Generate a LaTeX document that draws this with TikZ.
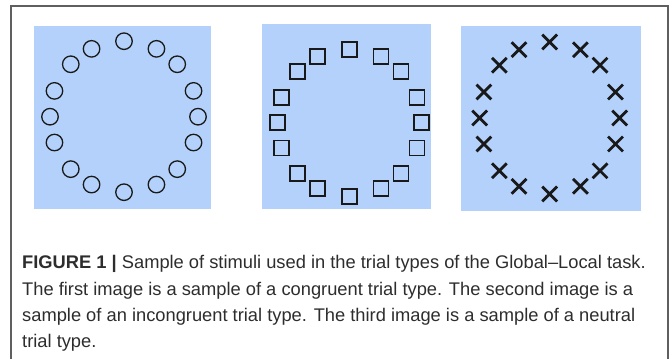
\documentclass[tikz,border=0pt]{standalone}
\usepackage{fontspec}
\setmainfont{Liberation Sans}
\usetikzlibrary{shapes.misc}
\definecolor{stimblue}{RGB}{179,209,250}
\definecolor{framegray}{RGB}{95,95,95}
\definecolor{ink}{RGB}{25,25,25}
\definecolor{captext}{RGB}{45,45,45}

\begin{document}
\begin{tikzpicture}[x=1pt,y=-1pt,
  panel/.style={fill=stimblue},
  circ/.style={draw=ink,circle,line width=1.3pt,minimum size=16.5pt,inner sep=0pt},
  sqr/.style={draw=ink,rectangle,line width=1.6pt,minimum size=15pt,inner sep=0pt},
  xmark/.style={draw=ink,cross out,line width=2.8pt,minimum size=12pt,inner sep=0pt},
  captxt/.style={anchor=base west,inner sep=0pt,text=captext,font=\fontsize{18.3}{22}\selectfont}]
\useasboundingbox (0,0) rectangle (670,359);

% frame round the figure
\draw[framegray,line width=1.4pt] (11,362) -- (11,6) -- (668,6) -- (668,362);

% stimulus panels
\fill[panel] (34,26) rectangle (211,209);
\fill[panel] (262,24) rectangle (431,209);
\fill[panel] (461,26) rectangle (641,211);

% local elements on the global ring
\foreach \a [count=\i] in {0,26,46,70,90,110,134,154,180,206,226,250,270,290,314,334}{
	\node[circ] (o\i) at ({124+74*sin(\a)},{116.7-75.5*cos(\a)}) {};
	\node[sqr] (s\i) at ({349.3+72*sin(\a)},{122.7-73.5*cos(\a)}) {};
	\node[xmark] (x\i) at ({549.7+70*sin(\a)},{118-76*cos(\a)}) {};
}

% caption
\node[captxt] (cap1) at (22,268.5) {\textbf{FIGURE 1 |} Sample of stimuli used in the trial types of the Global–Local task.};
\node[captxt] (cap2) at (22,295) {The first image is a sample of a congruent trial type. The second image is a};
\node[captxt] (cap3) at (22,321) {sample of an incongruent trial type. The third image is a sample of a neutral};
\node[captxt] (cap4) at (22,347.5) {trial type.};
\end{tikzpicture}
\end{document}
